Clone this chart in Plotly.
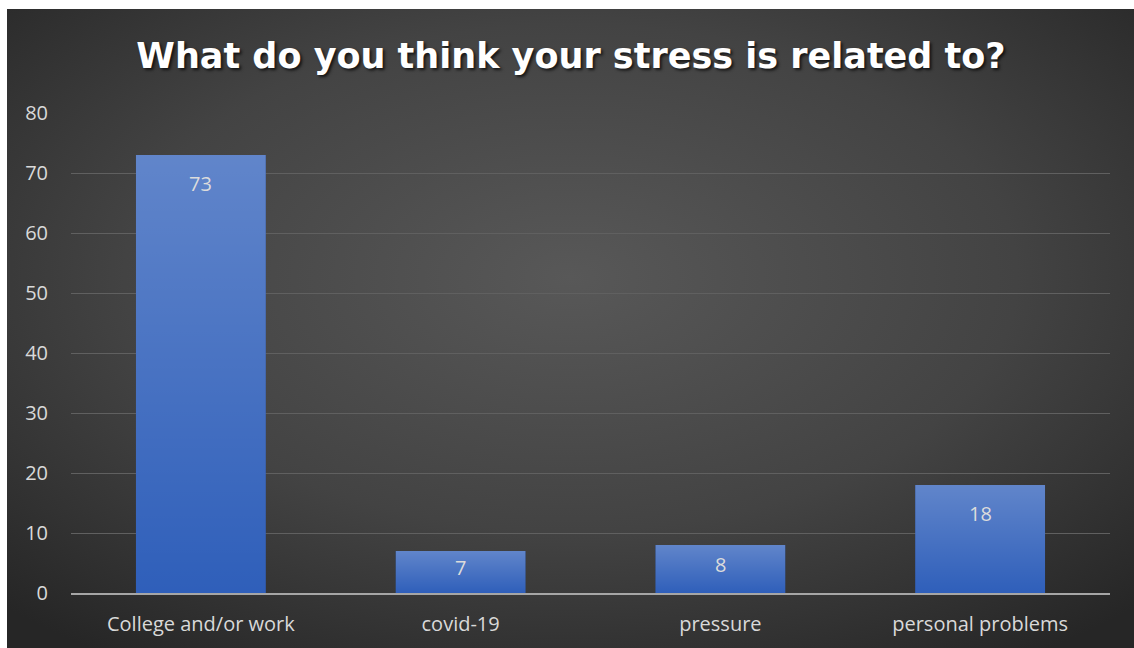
import base64
import plotly.graph_objects as go

# Survey answers
categories = ["College and/or work", "covid-19", "pressure", "personal problems"]
counts = [73, 7, 8, 18]
y_ticks = [0, 10, 20, 30, 40, 50, 60, 70, 80]

W, H = 1134, 648
L, R, T, B = 71, 24, 113, 55
plot_w = W - L - R
plot_h = H - T - B
BAR_WIDTH = 0.5


def svg_uri(svg):
    return "data:image/svg+xml;base64," + base64.b64encode(svg.encode()).decode()


# dark radial backdrop, lighter in the middle
backdrop = svg_uri(
    '<svg xmlns="http://www.w3.org/2000/svg" width="400" height="240" viewBox="0 0 400 240" '
    'preserveAspectRatio="none">'
    '<defs><radialGradient id="g" cx="0.5" cy="0.42" r="0.72">'
    '<stop offset="0" stop-color="#585858"/>'
    '<stop offset="0.55" stop-color="#434343"/>'
    '<stop offset="1" stop-color="#262626"/>'
    '</radialGradient></defs>'
    '<rect width="400" height="240" fill="url(#g)"/></svg>'
)

# soft highlight fading from the top of each bar
bar_sheen = svg_uri(
    '<svg xmlns="http://www.w3.org/2000/svg" width="10" height="100" viewBox="0 0 10 100" '
    'preserveAspectRatio="none">'
    '<defs><linearGradient id="s" x1="0" y1="0" x2="0" y2="1">'
    '<stop offset="0" stop-color="#ffffff" stop-opacity="0.24"/>'
    '<stop offset="1" stop-color="#ffffff" stop-opacity="0"/>'
    '</linearGradient></defs>'
    '<rect width="10" height="100" fill="url(#s)"/></svg>'
)

fig = go.Figure()
fig.add_trace(go.Bar(
    x=categories,
    y=counts,
    width=BAR_WIDTH,
    marker=dict(color="#2f5fba", line=dict(width=0)),
    hoverinfo="x+y",
))

images = [dict(
    source=backdrop,
    xref="paper", yref="paper",
    x=(7 - L) / plot_w, y=(H - B - 9) / plot_h,
    sizex=(W - 7) / plot_w, sizey=(H - 9) / plot_h,
    xanchor="left", yanchor="top",
    sizing="stretch", layer="below",
)]
for cat, v in zip(categories, counts):
    images.append(dict(
        source=bar_sheen,
        xref="x", yref="y",
        x=cat, y=v, sizex=BAR_WIDTH, sizey=v,
        xanchor="center", yanchor="top",
        sizing="stretch", layer="above",
    ))

label_font = dict(family="Open Sans, sans-serif", size=20, color="#d9d9d9")

# value labels just inside the top of each bar
annotations = []
for cat, v in zip(categories, counts):
    annotations.append(dict(
        x=cat, y=v, xref="x", yref="y",
        text=str(v), showarrow=False,
        yshift=-min(28, 3 * v - 5),
        font=dict(family="Open Sans, sans-serif", size=20, color="#dcdcdc"),
    ))

fig.update_layout(
    width=W, height=H,
    margin=dict(l=L, r=R, t=T, b=B, pad=0),
    paper_bgcolor="#ffffff",
    plot_bgcolor="rgba(0,0,0,0)",
    images=images,
    annotations=annotations,
    showlegend=False,
    bargap=0.5,
    title=dict(
        text="What do you think your stress is related to?",
        x=571 / W, xanchor="center",
        y=1 - 56 / H, yanchor="middle", yref="container",
        font=dict(family="DejaVu Sans, sans-serif", size=35, color="#ffffff",
                  weight="bold", shadow="2px 2px 3px rgba(0,0,0,0.7)"),
    ),
    xaxis=dict(
        showgrid=False,
        showline=True, linecolor="#a6a6a6", linewidth=2,
        ticks="", tickfont=label_font,
        ticklabelstandoff=12,
        fixedrange=True,
    ),
    yaxis=dict(
        range=[0, 80],
        tickvals=y_ticks,
        showgrid=True, gridcolor="#606060", gridwidth=1,
        zeroline=False, showline=False,
        ticks="", tickfont=label_font,
        ticklabelstandoff=22,
        fixedrange=True,
    ),
)

fig.write_html("out.html")
